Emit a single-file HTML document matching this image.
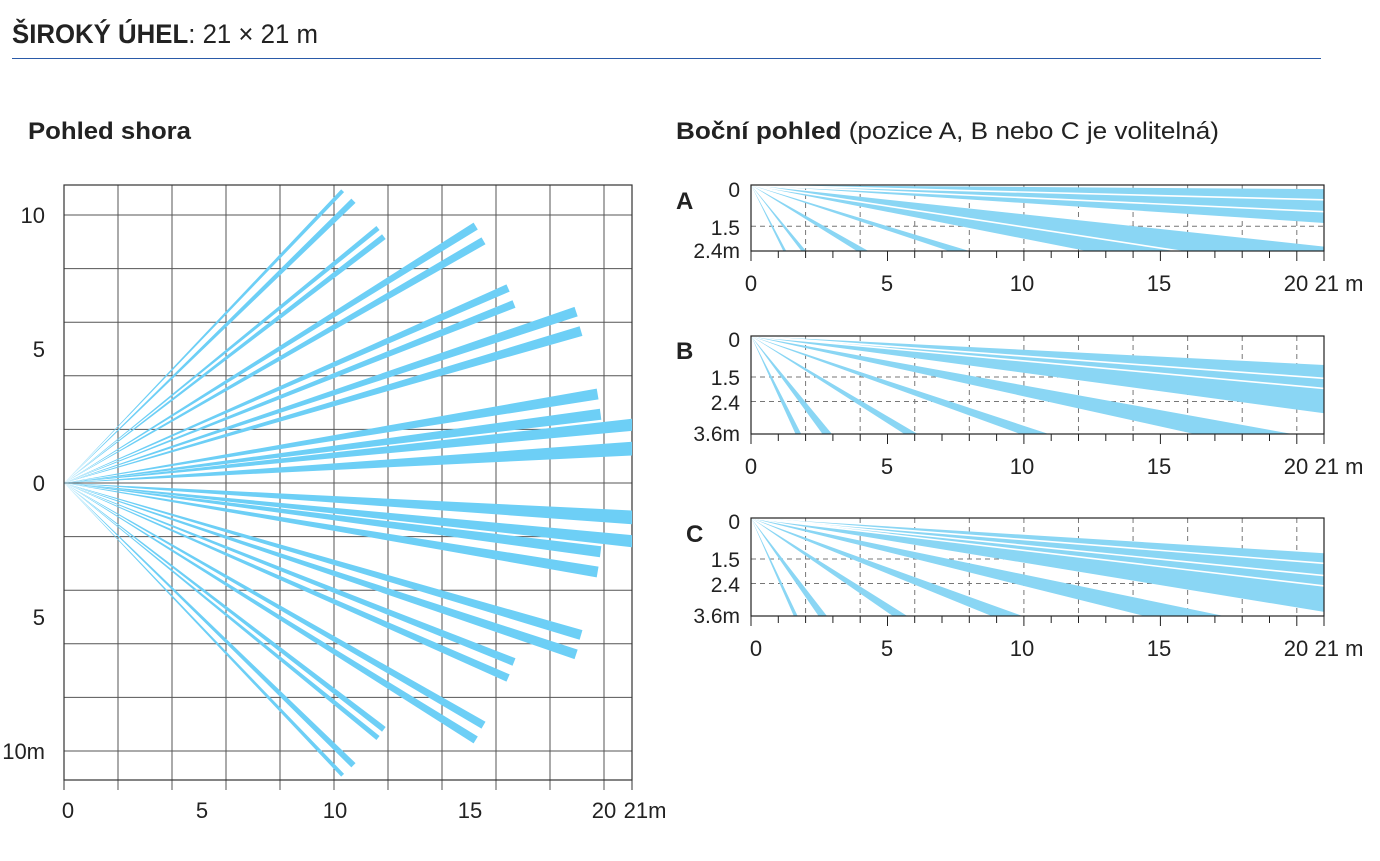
<!DOCTYPE html>
<html><head><meta charset="utf-8">
<style>
html,body{margin:0;padding:0;background:#fff;}
body{width:1380px;height:861px;position:relative;overflow:hidden;font-family:"Liberation Sans Narrow","Liberation Sans",sans-serif;color:#222;}
svg{position:absolute;left:0;top:0;}
</style></head><body>
<svg width="1380" height="861" viewBox="0 0 1380 861" font-family="'Liberation Sans Narrow','Liberation Sans',sans-serif" fill="#222">
<defs>
<clipPath id="cT"><rect x="64" y="185" width="568" height="595"/></clipPath>
<clipPath id="cA"><rect x="0" y="0" width="21" height="2.4"/></clipPath>
<clipPath id="cB"><rect x="0" y="0" width="21" height="3.6"/></clipPath>
</defs>
<text x="12" y="43" font-size="27" textLength="306" lengthAdjust="spacingAndGlyphs"><tspan font-weight="bold">ŠIROKÝ ÚHEL</tspan>: 21 × 21 m</text>
<line x1="12" y1="58.5" x2="1321" y2="58.5" stroke="#2a5aa8" stroke-width="1"/>
<text x="28" y="139" font-size="24" font-weight="bold" textLength="163" lengthAdjust="spacingAndGlyphs">Pohled shora</text>
<text x="676" y="139" font-size="24" textLength="543" lengthAdjust="spacingAndGlyphs"><tspan font-weight="bold">Boční pohled</tspan> (pozice A, B nebo C je volitelná)</text>

<!-- TOP VIEW grid -->
<g stroke="#555" stroke-width="1">
<line x1="118" y1="185" x2="118" y2="790"/><line x1="172" y1="185" x2="172" y2="790"/><line x1="226" y1="185" x2="226" y2="790"/><line x1="280" y1="185" x2="280" y2="790"/><line x1="334" y1="185" x2="334" y2="790"/><line x1="388" y1="185" x2="388" y2="790"/><line x1="442" y1="185" x2="442" y2="790"/><line x1="496" y1="185" x2="496" y2="790"/><line x1="550" y1="185" x2="550" y2="790"/><line x1="604" y1="185" x2="604" y2="790"/>
<line x1="64" y1="215" x2="632" y2="215"/><line x1="64" y1="268.6" x2="632" y2="268.6"/><line x1="64" y1="322.2" x2="632" y2="322.2"/><line x1="64" y1="375.8" x2="632" y2="375.8"/><line x1="64" y1="429.4" x2="632" y2="429.4"/><line x1="64" y1="483" x2="632" y2="483"/><line x1="64" y1="536.6" x2="632" y2="536.6"/><line x1="64" y1="590.2" x2="632" y2="590.2"/><line x1="64" y1="643.8" x2="632" y2="643.8"/><line x1="64" y1="697.4" x2="632" y2="697.4"/><line x1="64" y1="751" x2="632" y2="751"/>
</g>
<rect x="64" y="185" width="568" height="595" fill="none" stroke="#333" stroke-width="1.2"/>
<g stroke="#333"><line x1="64" y1="780" x2="64" y2="790"/><line x1="632" y1="780" x2="632" y2="790"/></g>
<g clip-path="url(#cT)" fill="#6dcff6">
<g transform="translate(64,483)">
<polygon transform="rotate(-46.37)" points="0,0 403.8,-2 403.8,2"/>
<polygon transform="rotate(-44.28)" points="0,0 404.3,-3 404.3,3"/>
<polygon transform="rotate(-39.08)" points="0,0 404.5,-2.5 404.5,2.5"/>
<polygon transform="rotate(-37.6)" points="0,0 403.7,-3 403.7,3"/>
<polygon transform="rotate(-31.97)" points="0,0 485.3,-4 485.3,4"/>
<polygon transform="rotate(-30.0)" points="0,0 484.4,-4 484.4,4"/>
<polygon transform="rotate(-23.71)" points="0,0 485,-4 485,4"/>
<polygon transform="rotate(-21.69)" points="0,0 484.3,-4 484.3,4"/>
<polygon transform="rotate(-18.5)" points="0,0 540,-5 540,5"/>
<polygon transform="rotate(-16.38)" points="0,0 538.9,-5 538.9,5"/>
<polygon transform="rotate(-9.47)" points="0,0 541,-5.5 541,5.5"/>
<polygon transform="rotate(-7.3)" points="0,0 541,-5.5 541,5.5"/>
<polygon transform="rotate(-5.85)" points="0,0 620,-6.5 620,6.5"/>
<polygon transform="rotate(-3.46)" points="0,0 620,-7.5 620,7.5"/>
<polygon transform="rotate(46.37)" points="0,0 403.8,-2 403.8,2"/>
<polygon transform="rotate(44.28)" points="0,0 404.3,-3 404.3,3"/>
<polygon transform="rotate(39.08)" points="0,0 404.5,-2.5 404.5,2.5"/>
<polygon transform="rotate(37.6)" points="0,0 403.7,-3 403.7,3"/>
<polygon transform="rotate(31.97)" points="0,0 485.3,-4 485.3,4"/>
<polygon transform="rotate(30.0)" points="0,0 484.4,-4 484.4,4"/>
<polygon transform="rotate(23.71)" points="0,0 485,-4 485,4"/>
<polygon transform="rotate(21.69)" points="0,0 484.3,-4 484.3,4"/>
<polygon transform="rotate(18.5)" points="0,0 540,-5 540,5"/>
<polygon transform="rotate(16.38)" points="0,0 538.9,-5 538.9,5"/>
<polygon transform="rotate(9.47)" points="0,0 541,-5.5 541,5.5"/>
<polygon transform="rotate(7.3)" points="0,0 541,-5.5 541,5.5"/>
<polygon transform="rotate(5.85)" points="0,0 620,-6.5 620,6.5"/>
<polygon transform="rotate(3.46)" points="0,0 620,-7.5 620,7.5"/>
</g></g>
<g font-size="22" text-anchor="end">
<text x="45" y="223">10</text><text x="45" y="357">5</text><text x="45" y="491">0</text><text x="45" y="625">5</text><text x="45" y="759">10m</text>
</g>
<g font-size="22" text-anchor="middle">
<text x="68" y="818">0</text><text x="202" y="818">5</text><text x="335" y="818">10</text><text x="470" y="818">15</text><text x="604" y="818">20</text><text x="645" y="818">21m</text>
</g>

<!-- SIDE A -->
<g transform="translate(751,185) scale(27.29,27.5)">
<g clip-path="url(#cA)">
<g stroke="#777" stroke-width="1" stroke-dasharray="5 4">
<line x1="2" y1="0" x2="2" y2="2.4" vector-effect="non-scaling-stroke"/><line x1="4" y1="0" x2="4" y2="2.4" vector-effect="non-scaling-stroke"/><line x1="6" y1="0" x2="6" y2="2.4" vector-effect="non-scaling-stroke"/><line x1="8" y1="0" x2="8" y2="2.4" vector-effect="non-scaling-stroke"/><line x1="10" y1="0" x2="10" y2="2.4" vector-effect="non-scaling-stroke"/><line x1="12" y1="0" x2="12" y2="2.4" vector-effect="non-scaling-stroke"/><line x1="14" y1="0" x2="14" y2="2.4" vector-effect="non-scaling-stroke"/><line x1="16" y1="0" x2="16" y2="2.4" vector-effect="non-scaling-stroke"/><line x1="18" y1="0" x2="18" y2="2.4" vector-effect="non-scaling-stroke"/><line x1="20" y1="0" x2="20" y2="2.4" vector-effect="non-scaling-stroke"/>
<line x1="0" y1="1.5" x2="21" y2="1.5" vector-effect="non-scaling-stroke"/>
</g>
<g fill="#8ad6f4">
<polygon points="0,0 3,5.58 3,6.09"/><polygon points="0,0 3,3.57 3,3.9"/><polygon points="0,0 10,5.58 10,6.19"/><polygon points="0,0 21,6.3 21,6.95"/><polygon points="0,0 21,2.24 21,4.1"/><polygon points="0,0 21,0.15 21,1.38"/>
</g>
<g stroke="#fff" stroke-width="1.6">
<line x1="0" y1="0" x2="21" y2="3.21" vector-effect="non-scaling-stroke"/><line x1="0" y1="0" x2="21" y2="0.54" vector-effect="non-scaling-stroke"/><line x1="0" y1="0" x2="21" y2="0.97" vector-effect="non-scaling-stroke"/>
</g>
</g></g>
<rect x="751" y="185" width="573" height="66" fill="none" stroke="#222" stroke-width="1.2"/>

<!-- SIDE B -->
<g transform="translate(751,336) scale(27.29,27.3)">
<g clip-path="url(#cB)">
<g stroke="#777" stroke-width="1" stroke-dasharray="5 4">
<line x1="2" y1="0" x2="2" y2="3.6" vector-effect="non-scaling-stroke"/><line x1="4" y1="0" x2="4" y2="3.6" vector-effect="non-scaling-stroke"/><line x1="6" y1="0" x2="6" y2="3.6" vector-effect="non-scaling-stroke"/><line x1="8" y1="0" x2="8" y2="3.6" vector-effect="non-scaling-stroke"/><line x1="10" y1="0" x2="10" y2="3.6" vector-effect="non-scaling-stroke"/><line x1="12" y1="0" x2="12" y2="3.6" vector-effect="non-scaling-stroke"/><line x1="14" y1="0" x2="14" y2="3.6" vector-effect="non-scaling-stroke"/><line x1="16" y1="0" x2="16" y2="3.6" vector-effect="non-scaling-stroke"/><line x1="18" y1="0" x2="18" y2="3.6" vector-effect="non-scaling-stroke"/><line x1="20" y1="0" x2="20" y2="3.6" vector-effect="non-scaling-stroke"/>
<line x1="0" y1="1.5" x2="21" y2="1.5" vector-effect="non-scaling-stroke"/><line x1="0" y1="2.4" x2="21" y2="2.4" vector-effect="non-scaling-stroke"/>
</g>
<g fill="#8ad6f4">
<polygon points="0,0 3,5.85 3,6.6"/><polygon points="0,0 3,3.63 3,4.11"/><polygon points="0,0 10,5.88 10,6.39"/><polygon points="0,0 21,6.91 21,7.64"/><polygon points="0,0 21,3.8 21,4.64"/><polygon points="0,0 21,1.06 21,2.83"/>
</g>
<g stroke="#fff" stroke-width="1.6">
<line x1="0" y1="0" x2="21" y2="1.55" vector-effect="non-scaling-stroke"/><line x1="0" y1="0" x2="21" y2="1.92" vector-effect="non-scaling-stroke"/>
</g>
</g></g>
<rect x="751" y="336" width="573" height="98" fill="none" stroke="#222" stroke-width="1.2"/>

<!-- SIDE C -->
<g transform="translate(751,518) scale(27.29,27.3)">
<g clip-path="url(#cB)">
<g stroke="#777" stroke-width="1" stroke-dasharray="5 4">
<line x1="2" y1="0" x2="2" y2="3.6" vector-effect="non-scaling-stroke"/><line x1="4" y1="0" x2="4" y2="3.6" vector-effect="non-scaling-stroke"/><line x1="6" y1="0" x2="6" y2="3.6" vector-effect="non-scaling-stroke"/><line x1="8" y1="0" x2="8" y2="3.6" vector-effect="non-scaling-stroke"/><line x1="10" y1="0" x2="10" y2="3.6" vector-effect="non-scaling-stroke"/><line x1="12" y1="0" x2="12" y2="3.6" vector-effect="non-scaling-stroke"/><line x1="14" y1="0" x2="14" y2="3.6" vector-effect="non-scaling-stroke"/><line x1="16" y1="0" x2="16" y2="3.6" vector-effect="non-scaling-stroke"/><line x1="18" y1="0" x2="18" y2="3.6" vector-effect="non-scaling-stroke"/><line x1="20" y1="0" x2="20" y2="3.6" vector-effect="non-scaling-stroke"/>
<line x1="0" y1="1.5" x2="21" y2="1.5" vector-effect="non-scaling-stroke"/><line x1="0" y1="2.4" x2="21" y2="2.4" vector-effect="non-scaling-stroke"/>
</g>
<g fill="#8ad6f4">
<polygon points="0,0 3,6.3 3,6.87"/><polygon points="0,0 3,3.87 3,4.35"/><polygon points="0,0 10,6.27 10,6.91"/><polygon points="0,0 21,7.58 21,8.55"/><polygon points="0,0 21,4.35 21,5.23"/><polygon points="0,0 21,1.29 21,3.44"/>
</g>
<g stroke="#fff" stroke-width="1.6">
<line x1="0" y1="0" x2="21" y2="1.66" vector-effect="non-scaling-stroke"/><line x1="0" y1="0" x2="21" y2="2.11" vector-effect="non-scaling-stroke"/><line x1="0" y1="0" x2="21" y2="2.49" vector-effect="non-scaling-stroke"/>
</g>
</g></g>
<rect x="751" y="518" width="573" height="98" fill="none" stroke="#222" stroke-width="1.2"/>

<!-- ticks -->
<g stroke="#222" stroke-width="1">
<path d="M751,251v10 M778.3,251v7 M805.6,251v7 M832.9,251v7 M860.2,251v7 M887.5,251v10 M914.7,251v7 M942,251v7 M969.3,251v7 M996.6,251v7 M1023.9,251v10 M1051.2,251v7 M1078.5,251v7 M1105.8,251v7 M1133.1,251v7 M1160.4,251v10 M1187.6,251v7 M1214.9,251v7 M1242.2,251v7 M1269.5,251v7 M1296.8,251v10 M1324,251v10"/>
<path d="M751,434v10 M778.3,434v7 M805.6,434v7 M832.9,434v7 M860.2,434v7 M887.5,434v10 M914.7,434v7 M942,434v7 M969.3,434v7 M996.6,434v7 M1023.9,434v10 M1051.2,434v7 M1078.5,434v7 M1105.8,434v7 M1133.1,434v7 M1160.4,434v10 M1187.6,434v7 M1214.9,434v7 M1242.2,434v7 M1269.5,434v7 M1296.8,434v10 M1324,434v10"/>
<path d="M751,616v10 M778.3,616v7 M805.6,616v7 M832.9,616v7 M860.2,616v7 M887.5,616v10 M914.7,616v7 M942,616v7 M969.3,616v7 M996.6,616v7 M1023.9,616v10 M1051.2,616v7 M1078.5,616v7 M1105.8,616v7 M1133.1,616v7 M1160.4,616v10 M1187.6,616v7 M1214.9,616v7 M1242.2,616v7 M1269.5,616v7 M1296.8,616v10 M1324,616v10"/>
</g>
<g font-size="24" font-weight="bold"><text x="676" y="209">A</text><text x="676" y="359">B</text><text x="686" y="542">C</text></g>
<g font-size="21" text-anchor="end">
<text x="740" y="197">0</text><text x="740" y="235">1.5</text><text x="740" y="258">2.4m</text>
<text x="740" y="347">0</text><text x="740" y="385">1.5</text><text x="740" y="410">2.4</text><text x="740" y="441">3.6m</text>
<text x="740" y="529">0</text><text x="740" y="567">1.5</text><text x="740" y="592">2.4</text><text x="740" y="623">3.6m</text>
</g>
<g font-size="22" text-anchor="middle">
<text x="751" y="291">0</text><text x="887" y="291">5</text><text x="1022" y="291">10</text><text x="1159" y="291">15</text><text x="1296" y="291">20</text><text x="1339" y="291">21 m</text>
<text x="751" y="474">0</text><text x="887" y="474">5</text><text x="1022" y="474">10</text><text x="1159" y="474">15</text><text x="1296" y="474">20</text><text x="1339" y="474">21 m</text>
<text x="756" y="656">0</text><text x="887" y="656">5</text><text x="1022" y="656">10</text><text x="1159" y="656">15</text><text x="1296" y="656">20</text><text x="1339" y="656">21 m</text>
</g>
</svg>
</body></html>
